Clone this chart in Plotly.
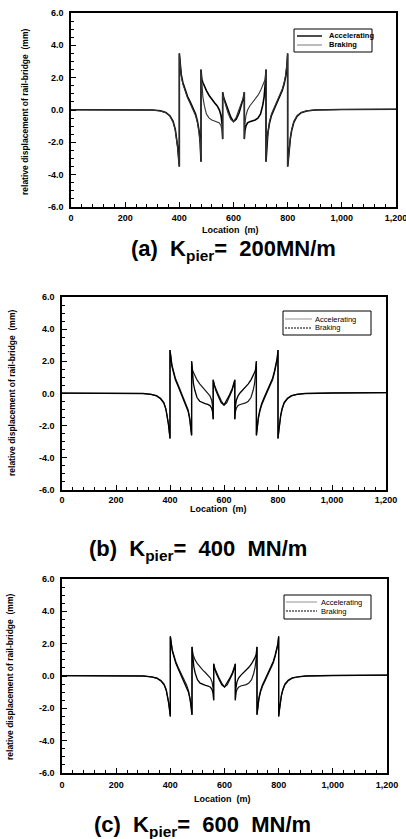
import plotly.graph_objects as go

# ---------------- data ----------------
location = [0, 100, 200, 300, 330, 350, 365, 377, 385, 390, 394, 397, 400,
            400, 403, 407, 413, 420, 430, 440, 450, 460, 467, 473, 477, 480,
            480, 483, 487, 492, 500, 510, 520, 530, 540, 548, 554, 558, 560,
            560, 564, 570, 580, 590, 600, 610, 620, 630, 636, 640,
            640, 642, 646, 652, 660, 670, 680, 690, 700, 708, 713, 717, 720,
            720, 723, 727, 733, 740, 750, 760, 770, 780, 787, 793, 797, 800,
            800, 803, 806, 810, 815, 823, 835, 850, 870, 900, 1000, 1100, 1200]

# (a) K_pier = 200 MN/m
acc_200 = ([0.02, 0.02, 0.03, 0.0, -0.05, -0.15, -0.35, -0.7, -1.2, -1.7, -2.3, -2.9, -3.5]
           + [3.5, 2.8, 2.2, 1.7, 1.3, 0.85, 0.5, 0.15, -0.25, -0.7, -1.3, -2.0, -3.2]
           + [2.5, 1.9, 1.7, 1.5, 1.2, 0.9, 0.65, 0.45, 0.25, 0.0, -0.35, -0.9, -1.8]
           + [1.1, 0.75, 0.45, 0.0, -0.45, -0.72, -0.58, -0.2, 0.3, 0.7, 1.1]
           + [-1.8, -1.3, -0.98, -0.8, -0.72, -0.68, -0.62, -0.5, -0.25, 0.3, 0.8, 1.6, 2.5]
           + [-3.2, -2.1, -1.4, -0.8, -0.35, 0.05, 0.4, 0.75, 1.2, 1.6, 2.1, 2.7, 3.5]
           + [-3.5, -2.95, -2.35, -1.75, -1.25, -0.75, -0.38, -0.17, -0.06, 0.0, 0.03, 0.04, 0.05])
brk_200 = ([0.02, 0.02, 0.03, 0.0, -0.06, -0.17, -0.38, -0.75, -1.25, -1.75, -2.35, -2.95, -3.5]
           + [3.5, 2.7, 2.1, 1.6, 1.2, 0.75, 0.4, 0.05, -0.35, -0.8, -1.4, -2.1, -3.2]
           + [2.5, 1.6, 0.8, 0.3, -0.25, -0.5, -0.62, -0.68, -0.72, -0.8, -0.98, -1.3, -1.8]
           + [1.1, 0.7, 0.3, -0.2, -0.58, -0.72, -0.45, 0.0, 0.45, 0.75, 1.1]
           + [-1.8, -0.9, -0.35, 0.0, 0.25, 0.45, 0.65, 0.9, 1.2, 1.5, 1.7, 1.9, 2.5]
           + [-3.2, -2.0, -1.3, -0.7, -0.25, 0.15, 0.5, 0.85, 1.3, 1.7, 2.2, 2.8, 3.5]
           + [-3.5, -2.9, -2.3, -1.7, -1.2, -0.7, -0.35, -0.15, -0.05, 0.0, 0.03, 0.04, 0.05])

# (b) K_pier = 400 MN/m
acc_400 = ([0.02, 0.02, 0.03, 0.0, -0.05, -0.13, -0.3, -0.55, -0.95, -1.35, -1.85, -2.3, -2.8]
           + [2.7, 2.2, 1.8, 1.4, 0.95, 0.55, 0.15, -0.2, -0.6, -1.0, -1.5, -2.0, -2.6]
           + [2.0, 1.5, 1.3, 1.1, 0.85, 0.6, 0.4, 0.22, 0.05, -0.15, -0.4, -0.85, -1.6]
           + [0.85, 0.55, 0.28, -0.1, -0.45, -0.72, -0.58, -0.22, 0.18, 0.52, 0.85]
           + [-1.6, -1.15, -0.9, -0.75, -0.68, -0.63, -0.58, -0.48, -0.25, 0.2, 0.6, 1.25, 2.0]
           + [-2.6, -2.1, -1.6, -1.1, -0.7, -0.3, 0.05, 0.45, 0.85, 1.3, 1.7, 2.1, 2.7]
           + [-2.8, -2.35, -1.9, -1.4, -1.0, -0.6, -0.33, -0.15, -0.06, 0.0, 0.03, 0.04, 0.05])
brk_400 = ([0.02, 0.02, 0.03, 0.0, -0.06, -0.15, -0.33, -0.6, -1.0, -1.4, -1.9, -2.35, -2.8]
           + [2.7, 2.1, 1.7, 1.3, 0.85, 0.45, 0.05, -0.3, -0.7, -1.1, -1.6, -2.1, -2.6]
           + [2.0, 1.25, 0.6, 0.2, -0.25, -0.48, -0.58, -0.63, -0.68, -0.75, -0.9, -1.15, -1.6]
           + [0.85, 0.52, 0.18, -0.22, -0.58, -0.72, -0.45, -0.1, 0.28, 0.55, 0.85]
           + [-1.6, -0.85, -0.4, -0.15, 0.05, 0.22, 0.4, 0.6, 0.85, 1.1, 1.3, 1.5, 2.0]
           + [-2.6, -2.0, -1.5, -1.0, -0.6, -0.2, 0.15, 0.55, 0.95, 1.4, 1.8, 2.2, 2.7]
           + [-2.8, -2.3, -1.85, -1.35, -0.95, -0.55, -0.3, -0.13, -0.05, 0.0, 0.03, 0.04, 0.05])

# (c) K_pier = 600 MN/m
acc_600 = ([0.02, 0.02, 0.03, 0.0, -0.05, -0.12, -0.27, -0.5, -0.85, -1.2, -1.65, -2.05, -2.5]
           + [2.45, 2.0, 1.65, 1.3, 0.9, 0.5, 0.15, -0.2, -0.55, -0.9, -1.35, -1.8, -2.4]
           + [1.8, 1.35, 1.15, 0.98, 0.76, 0.54, 0.36, 0.2, 0.04, -0.13, -0.36, -0.78, -1.5]
           + [0.75, 0.48, 0.23, -0.12, -0.44, -0.68, -0.55, -0.22, 0.14, 0.45, 0.75]
           + [-1.5, -1.08, -0.84, -0.69, -0.62, -0.58, -0.53, -0.44, -0.23, 0.17, 0.55, 1.1, 1.8]
           + [-2.4, -1.9, -1.45, -1.0, -0.65, -0.3, 0.05, 0.4, 0.8, 1.2, 1.55, 1.9, 2.45]
           + [-2.5, -2.1, -1.7, -1.25, -0.9, -0.55, -0.3, -0.14, -0.06, 0.0, 0.03, 0.04, 0.05])
brk_600 = ([0.02, 0.02, 0.03, 0.0, -0.06, -0.14, -0.3, -0.55, -0.9, -1.25, -1.7, -2.1, -2.5]
           + [2.45, 1.9, 1.55, 1.2, 0.8, 0.4, 0.05, -0.3, -0.65, -1.0, -1.45, -1.9, -2.4]
           + [1.8, 1.1, 0.55, 0.17, -0.23, -0.44, -0.53, -0.58, -0.62, -0.69, -0.84, -1.08, -1.5]
           + [0.75, 0.45, 0.14, -0.22, -0.55, -0.68, -0.44, -0.12, 0.23, 0.48, 0.75]
           + [-1.5, -0.78, -0.36, -0.13, 0.04, 0.2, 0.36, 0.54, 0.76, 0.98, 1.15, 1.35, 1.8]
           + [-2.4, -1.8, -1.35, -0.9, -0.55, -0.2, 0.15, 0.5, 0.9, 1.3, 1.65, 2.0, 2.45]
           + [-2.5, -2.05, -1.65, -1.2, -0.85, -0.5, -0.27, -0.12, -0.05, 0.0, 0.03, 0.04, 0.05])

x_ticks = [0, 200, 400, 600, 800, 1000, 1200]
x_tick_labels = ["0", "200", "400", "600", "800", "1,000", "1,200"]
y_ticks = [-6, -4, -2, 0, 2, 4, 6]
y_tick_labels = ["-6.0", "-4.0", "-2.0", "0.0", "2.0", "4.0", "6.0"]
series_names = ["Accelerating", "Braking"]
captions = ["(a)\u00a0\u00a0K<sub>pier</sub>=\u00a0\u00a0200MN/m",
            "(b)\u00a0\u00a0K<sub>pier</sub>=\u00a0\u00a0400\u00a0\u00a0MN/m",
            "(c)\u00a0\u00a0K<sub>pier</sub>=\u00a0\u00a0600\u00a0\u00a0MN/m"]
y_title = "relative displacement of rail-bridge\u00a0\u00a0(mm)"
x_title = "Location\u00a0\u00a0(m)"

# ---------------- layout helpers ----------------
W, H = 406, 839
def px(v): return v / W
def py(v): return 1 - v / H

FONT = "Liberation Sans, Arial, sans-serif"

panels = [
    dict(acc=acc_200, brk=brk_200, xd=(71, 396), yd=(13, 207), xstand=1,
         legbox=(294, 29, 372, 52), legrows=(36, 45), legline=(297, 322), legtext=327,
         legbold=True,
         acc_style=dict(color="black", width=1.6),
         brk_style=dict(color="#333333", width=1.1),
         acc_leg=dict(color="black", width=1.4), brk_leg=dict(color="#555555", width=0.8),
         cap=(233, 250), xt=(230, 230), yt=(25, 112)),
    dict(acc=acc_400, brk=brk_400, xd=(62, 386), yd=(297, 490), xstand=0,
         legbox=(283, 311, 371, 335), legrows=(319, 328), legline=(285, 312), legtext=313,
         legbold=False,
         acc_style=dict(color="#1a1a1a", width=1.2),
         brk_style=dict(color="black", width=1.3),
         acc_leg=dict(color="#777777", width=0.8), brk_leg=dict(color="black", width=1, dash="2px,1px"),
         cap=(198, 550), xt=(218, 509), yt=(12, 393)),
    dict(acc=acc_600, brk=brk_600, xd=(62, 387), yd=(579, 773), xstand=2,
         legbox=(284, 595, 371, 619), legrows=(602, 611), legline=(286, 317), legtext=319,
         legbold=False,
         acc_style=dict(color="#1a1a1a", width=1.2),
         brk_style=dict(color="black", width=1.3),
         acc_leg=dict(color="#777777", width=0.8), brk_leg=dict(color="black", width=1, dash="2px,1px"),
         cap=(202, 826), xt=(222, 799), yt=(10, 677)),
]

fig = go.Figure()
annotations = []
shapes = []
layout = dict(width=W, height=H, autosize=False,
              margin=dict(l=0, r=0, t=0, b=0, autoexpand=False),
              paper_bgcolor="white", plot_bgcolor="white",
              font=dict(family=FONT, color="black"), showlegend=False)

for i, p in enumerate(panels):
    n = "" if i == 0 else str(i + 1)
    fig.add_trace(go.Scatter(x=location, y=p["acc"], mode="lines", name=series_names[0],
                             line=p["acc_style"], xaxis="x" + n, yaxis="y" + n))
    fig.add_trace(go.Scatter(x=location, y=p["brk"], mode="lines", name=series_names[1],
                             line=p["brk_style"], xaxis="x" + n, yaxis="y" + n))
    layout["xaxis" + n] = dict(
        domain=[px(p["xd"][0]), px(p["xd"][1])], anchor="y" + n,
        range=[0, 1200], tickvals=x_ticks, ticktext=x_tick_labels,
        ticks="inside", ticklen=5, tickwidth=1.2, tickcolor="black",
        minor=dict(dtick=40, ticks="inside", ticklen=3, tickwidth=1, tickcolor="black"),
        showline=True, linecolor="black", linewidth=1.5, mirror=True,
        showgrid=False, zeroline=False, automargin=False, ticklabeloverflow="allow",
        tickfont=dict(family=FONT, size=9, weight="bold"), ticklabelstandoff=p["xstand"])
    layout["yaxis" + n] = dict(
        domain=[py(p["yd"][1]), py(p["yd"][0])], anchor="x" + n,
        range=[-6, 6], tickvals=y_ticks, ticktext=y_tick_labels,
        ticks="inside", ticklen=5, tickwidth=1.2, tickcolor="black",
        minor=dict(dtick=0.5, ticks="inside", ticklen=3, tickwidth=1, tickcolor="black"),
        showline=True, linecolor="black", linewidth=1.5, mirror=True,
        showgrid=False, zeroline=False, automargin=False, ticklabeloverflow="allow",
        tickfont=dict(family=FONT, size=9, weight="bold"), ticklabelstandoff=4)

    # legend box (drawn as shapes + text)
    bx0, by0, bx1, by1 = p["legbox"]
    shapes.append(dict(type="rect", xref="paper", yref="paper",
                       x0=px(bx0), x1=px(bx1), y0=py(by1), y1=py(by0),
                       line=dict(color="black", width=1), fillcolor="white", layer="above"))
    for k, (name, lst) in enumerate(zip(series_names, [p["acc_leg"], p["brk_leg"]])):
        ry = p["legrows"][k]
        shapes.append(dict(type="line", xref="paper", yref="paper",
                           x0=px(p["legline"][0]), x1=px(p["legline"][1]),
                           y0=py(ry), y1=py(ry), line=lst, layer="above"))
        annotations.append(dict(text=name, x=px(p["legtext"]), y=py(ry),
                                xref="paper", yref="paper", showarrow=False,
                                xanchor="left", yanchor="middle",
                                font=dict(family=FONT, size=7.5,
                                          weight="bold" if p["legbold"] else "normal")))

    annotations.append(dict(text=captions[i], x=px(p["cap"][0]), y=py(p["cap"][1]),
                            xref="paper", yref="paper", showarrow=False,
                            xanchor="center", yanchor="middle",
                            font=dict(family=FONT, size=22, weight="bold")))
    annotations.append(dict(text=x_title, x=px(p["xt"][0]), y=py(p["xt"][1]),
                            xref="paper", yref="paper", showarrow=False,
                            xanchor="center", yanchor="middle",
                            font=dict(family=FONT, size=9, weight="bold")))
    annotations.append(dict(text=y_title, x=px(p["yt"][0]), y=py(p["yt"][1]),
                            xref="paper", yref="paper", showarrow=False, textangle=-90,
                            xanchor="center", yanchor="middle",
                            font=dict(family=FONT, size=8.5, weight="bold")))

layout["annotations"] = annotations
layout["shapes"] = shapes
fig.update_layout(**layout)
fig.write_html("out.html", config={"displayModeBar": False},
               post_script="document.body.style.margin='0';document.body.style.overflow='hidden';")
